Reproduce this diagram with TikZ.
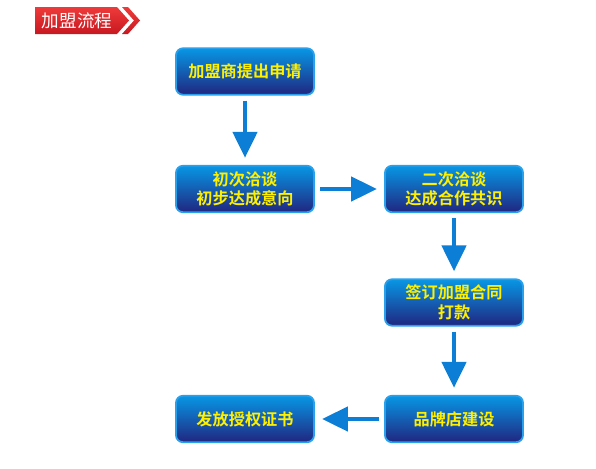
\documentclass[tikz,border=0pt]{standalone}
\usepackage{fontspec}
\setmainfont{Noto Sans CJK SC}[BoldFont={Noto Sans CJK SC Bold}]
\usepackage{tikz}
\usetikzlibrary{positioning}
\usetikzlibrary{arrows.meta}
\definecolor{boxtop}{RGB}{8,150,228}
\definecolor{boxbottom}{RGB}{32,38,128}
\definecolor{boxline}{RGB}{40,160,235}
\definecolor{boxtext}{RGB}{255,240,0}
\definecolor{arrowblue}{RGB}{12,126,214}
\definecolor{bannertop}{RGB}{238,58,58}
\definecolor{bannerbottom}{RGB}{200,24,32}

\begin{document}
\begin{tikzpicture}[x=0.025cm, y=-0.025cm]
	\useasboundingbox (0,0) rectangle (596,468);

	% title banner
	\shade[top color=bannertop, bottom color=bannerbottom]
	    (35,7) -- (117,7) -- (129,20.5) -- (117,34) -- (35,34) -- cycle;
	\shade[top color=bannertop, bottom color=bannerbottom]
	    (122,7) -- (128,7) -- (140,20.5) -- (128,34) -- (122,34) -- (134,20.5) -- cycle;
	\node[text=white, font=\fontsize{12.5}{14}\selectfont] (title) at (77,20.5) {加盟流程};

	\begin{scope}[every node/.style={rounded corners=5pt, draw=boxline, line width=1.3pt,
	              top color=boxtop, bottom color=boxbottom, text=boxtext,
	              minimum width=3.45cm, minimum height=1.16cm, align=center,
	              font=\bfseries\fontsize{11.5}{14}\selectfont}]
	    \node (apply) at (245,71.5) {加盟商提出申请};
	    \node (talk) at (245,189) {初次洽谈\\初步达成意向};
	    \node (agree) at (454,189) {二次洽谈\\达成合作共识};
	    \node (sign) at (454,302.5) {签订加盟合同\\打款};
	    \node (shop) at (454,419) {品牌店建设};
	    \node (cert) at (245,419) {发放授权证书};
	\end{scope}

	\begin{scope}[>={Triangle[width=17pt, length=18.5pt]},
	              every edge/.style={draw=arrowblue, line width=3.5pt,
	              shorten <=3.5pt, shorten >=5pt}]
    	\path [->] (apply) edge (talk);
    	\path [->] (talk) edge (agree);
    	\path [->] (agree) edge (sign);
    	\path [->] (sign) edge (shop);
    	\path [->] (shop) edge (cert);
	\end{scope}
\end{tikzpicture}
\end{document}
